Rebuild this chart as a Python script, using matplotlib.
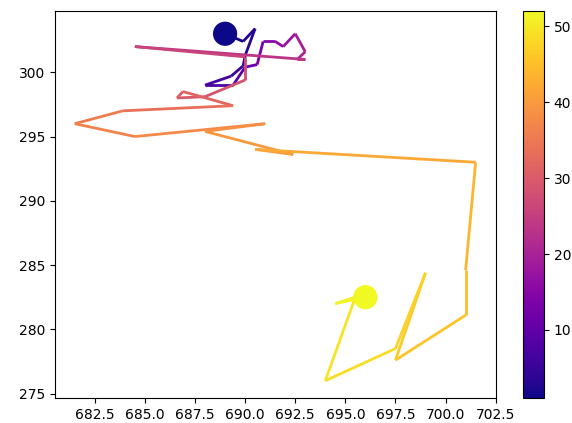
import matplotlib
matplotlib.use("Agg")
import matplotlib.pyplot as plt
import numpy as np
from matplotlib.collections import LineCollection
from matplotlib.colors import Normalize

# track positions and the time step of each one
xs = [689.0, 689.9, 690.5, 690.0, 689.9, 689.3, 688.0, 689.4, 690.0, 690.6,
      690.9, 691.5, 691.9, 692.5, 693.0, 692.6, 693.0, 684.5, 690.0, 690.0,
      688.0, 686.6, 686.9, 689.4, 683.9, 681.5, 684.5, 691.0, 688.0, 692.4,
      690.5, 701.5, 701.0, 701.0, 697.5, 699.0, 697.5, 694.0, 695.5, 694.5,
      696.0]
ys = [303.0, 302.4, 303.4, 301.3, 300.5, 299.7, 299.0, 299.0, 300.4, 300.6,
      302.4, 302.4, 302.0, 303.0, 301.6, 301.0, 301.0, 302.0, 301.2, 299.4,
      298.1, 298.0, 298.5, 297.4, 297.0, 296.0, 295.0, 296.0, 295.4, 293.6,
      294.0, 293.0, 284.6, 281.1, 277.6, 284.4, 278.5, 276.0, 282.5, 282.0,
      282.5]
ts = [1, 2, 3, 4, 5, 6, 7, 8, 10, 12,
      14, 16, 17, 18, 20, 21, 22, 25, 27, 28,
      29, 30, 31, 32, 35, 36, 37, 38, 39, 40,
      41, 43, 44, 45, 46, 47, 48, 49, 50, 51,
      52]

x = np.array(xs)
y = np.array(ys)
t = np.array(ts, dtype=float)

fig = plt.figure(figsize=(5.72, 4.23), dpi=100)
ax = fig.add_axes([0.0956, 0.0584, 0.771, 0.9156])
cax = fig.add_axes([0.9143, 0.0584, 0.0367, 0.9156])

norm = Normalize(vmin=t.min(), vmax=t.max())
pts = np.column_stack([x, y]).reshape(-1, 1, 2)
segs = np.concatenate([pts[:-1], pts[1:]], axis=1)
lc = LineCollection(segs, cmap='plasma', norm=norm, linewidth=2)
lc.set_array((t[:-1] + t[1:]) / 2)
ax.add_collection(lc)

# start and end of the track
ax.scatter([x[0], x[-1]], [y[0], y[-1]], c=[t[0], t[-1]], cmap='plasma',
           norm=norm, s=270, zorder=3)
ax.autoscale_view()

fig.colorbar(lc, cax=cax)
fig.savefig("out.png", dpi=100)
